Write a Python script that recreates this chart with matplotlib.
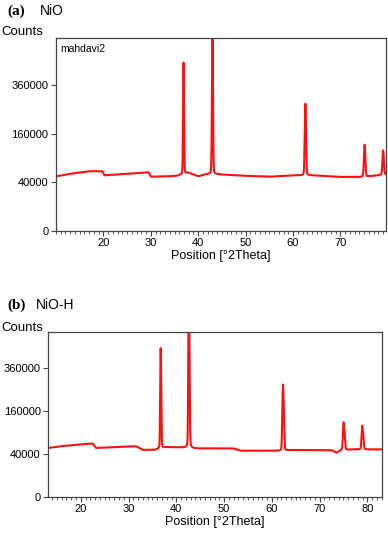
import numpy as np
import matplotlib
matplotlib.use("Agg")
import matplotlib.pyplot as plt

plt.rcParams['font.family'] = ['Liberation Sans', 'DejaVu Sans']

# ---------------- data ----------------
# Panel (a) NiO
a_base_x = [10, 13, 17, 19.8, 20.2, 25, 29.5, 30.0, 33, 35.5, 38, 40, 41.5, 44, 50, 55, 60, 64, 70, 74, 77, 79.5]
a_base_y = [50000, 55000, 60000, 60000, 52000, 55000, 58000, 49500, 50000, 51000, 57000, 50000, 54000, 54000,
            51000, 49500, 52000, 52000, 49000, 49000, 51000, 54000]
a_peak_pos = [36.9, 43.0, 62.6, 75.1, 79.0]
a_peak_amp = [425000, 590000, 222000, 76000, 56000]
a_peak_fwhm = [0.20, 0.22, 0.28, 0.32, 0.32]

# Panel (b) NiO-H
b_base_x = [13.2, 16, 20, 22.5, 23.2, 28, 31.5, 33.0, 35.5, 38, 41, 44, 52, 53.5, 62, 64, 72.5, 73.5, 74.5, 77, 83]
b_base_y = [52000, 56000, 60000, 62000, 52000, 54000, 56000, 48000, 48000, 54000, 53000, 51000, 51000,
            46200, 46200, 47600, 47600, 42000, 47600, 49000, 49000]
b_peak_pos = [36.7, 42.6, 62.3, 75.0, 78.9]
b_peak_amp = [345000, 680000, 200000, 66000, 56000]
b_peak_fwhm = [0.18, 0.20, 0.25, 0.28, 0.28]
b_ka2_shift = [0.10, 0.12, 0.18, 0.22, 0.23]
b_ka2_ratio = 0.5

a_xlim = (10.0, 79.5)
b_xlim = (13.2, 83.0)
a_ytop = 630000
b_ytop = 596000
y_ticks = [0, 40000, 160000, 360000]
x_ticks_a = [20, 30, 40, 50, 60, 70]
x_ticks_b = [20, 30, 40, 50, 60, 70, 80]


def profile(x, pos, amp, fwhm):
    g = np.exp(-4 * np.log(2) * ((x - pos) / fwhm) ** 2)
    l = 1.0 / (1.0 + 4 * ((x - pos) / fwhm) ** 2)
    return amp * (0.88 * g + 0.12 * l)


def pattern(xlim, bx, by, pos, amp, fw, shifts=None, ratio=0.0):
    x = np.arange(xlim[0], xlim[1] + 0.01, 0.01)
    y = np.interp(x, bx, by)
    for i in range(len(pos)):
        y = y + profile(x, pos[i], amp[i], fw[i])
        if shifts is not None:
            y = y + profile(x, pos[i] + shifts[i], amp[i] * ratio, fw[i])
    return x, y


fwd = lambda v: np.sqrt(np.maximum(v, 0))
inv = lambda v: np.asarray(v) ** 2

fig = plt.figure(figsize=(3.88, 5.36), dpi=100)
ax1 = fig.add_axes([56 / 388, 1 - 230.7 / 536, 329.5 / 388, 192.7 / 536])
ax2 = fig.add_axes([48.3 / 388, 1 - 496.7 / 536, 333.4 / 388, 165 / 536])

xa, ya = pattern(a_xlim, a_base_x, a_base_y, a_peak_pos, a_peak_amp, a_peak_fwhm)
xb, yb = pattern(b_xlim, b_base_x, b_base_y, b_peak_pos, b_peak_amp, b_peak_fwhm, b_ka2_shift, b_ka2_ratio)

for ax, x, y, xlim, ytop, xt in [(ax1, xa, ya, a_xlim, a_ytop, x_ticks_a),
                                 (ax2, xb, yb, b_xlim, b_ytop, x_ticks_b)]:
    ax.plot(x, y, color='#ff0f0f', lw=1.5, solid_joinstyle='round')
    ax.set_yscale('function', functions=(fwd, inv))
    ax.set_xlim(*xlim)
    ax.set_ylim(0, ytop)
    ax.set_yticks(y_ticks)
    ax.set_yticklabels([str(v) for v in y_ticks])
    ax.set_xticks(xt)
    ax.set_xticks(np.arange(int(np.ceil(xlim[0])), int(xlim[1]) + 1, 1), minor=True)
    ax.tick_params(axis='both', which='major', direction='out', length=3.5, width=0.8,
                   labelsize=8, color='#444444', pad=2)
    ax.tick_params(axis='x', which='minor', direction='out', length=2, width=0.6, color='#444444')
    ax.tick_params(axis='y', which='minor', left=False)
    for s in ax.spines.values():
        s.set_color('#444444')
        s.set_linewidth(0.9)
    ax.set_xlabel('Position [°2Theta]', fontsize=9, labelpad=1.5)

ax1.text(0.012, 0.97, 'mahdavi2', transform=ax1.transAxes, fontsize=7.5, va='top', ha='left')

fig.text(7 / 388, 1 - 11 / 536, '(a)', fontsize=11, fontweight='bold', family='Liberation Serif', va='center')
fig.text(40 / 388, 1 - 11 / 536, 'NiO', fontsize=10, va='center')
fig.text(1 / 388, 1 - 32 / 536, 'Counts', fontsize=9.5, va='center')
fig.text(7 / 388, 1 - 305 / 536, '(b)', fontsize=11, fontweight='bold', family='Liberation Serif', va='center')
fig.text(36 / 388, 1 - 305 / 536, 'NiO-H', fontsize=10, va='center')
fig.text(1 / 388, 1 - 328 / 536, 'Counts', fontsize=9.5, va='center')

fig.savefig('out.png', dpi=100)
